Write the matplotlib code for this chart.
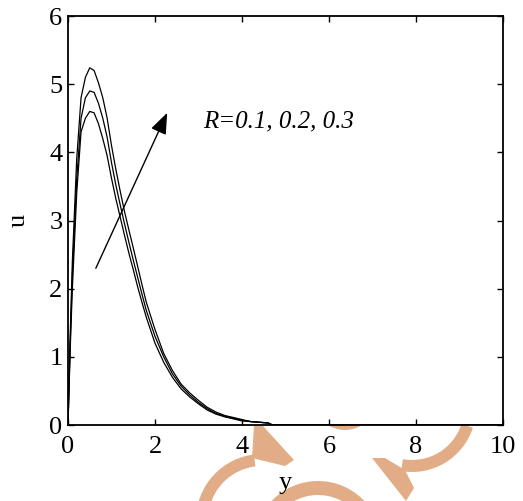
import matplotlib
matplotlib.use("Agg")
import matplotlib.pyplot as plt
from matplotlib.patches import Wedge, Polygon

plt.rcParams['font.family'] = ['Liberation Serif', 'DejaVu Serif']

# distance from the plate
y = [0, 0.05, 0.1, 0.2, 0.3, 0.4, 0.5, 0.6, 0.7, 0.8, 0.9, 1.0, 1.1, 1.2, 1.3,
     1.4, 1.5, 1.6, 1.7, 1.8, 2.0, 2.2, 2.4, 2.6, 2.8, 3.0, 3.2, 3.4, 3.6, 3.8,
     4.0, 4.2, 4.4, 4.6, 4.7, 5.0, 6.0, 7.0, 8.0, 9.0, 10.0]

# velocity profiles for R = 0.1, 0.2, 0.3
u_r01 = [0, 1.1, 2.0, 3.4, 4.3, 4.5, 4.6, 4.58, 4.42, 4.2, 3.95, 3.62, 3.32, 3.05,
         2.78, 2.52, 2.28, 2.03, 1.8, 1.58, 1.2, 0.92, 0.7, 0.53, 0.41, 0.31, 0.22,
         0.16, 0.12, 0.09, 0.06, 0.05, 0.04, 0.03, 0, 0, 0, 0, 0, 0, 0]
u_r02 = [0, 1.2, 2.2, 3.6, 4.5, 4.8, 4.9, 4.88, 4.72, 4.5, 4.22, 3.85, 3.52, 3.23,
         2.95, 2.68, 2.42, 2.17, 1.92, 1.68, 1.3, 1.0, 0.75, 0.57, 0.44, 0.33, 0.24,
         0.17, 0.13, 0.1, 0.07, 0.05, 0.04, 0.03, 0, 0, 0, 0, 0, 0, 0]
u_r03 = [0, 1.3, 2.4, 3.9, 4.8, 5.1, 5.24, 5.2, 5.02, 4.8, 4.5, 4.1, 3.75, 3.43,
         3.13, 2.86, 2.6, 2.33, 2.06, 1.8, 1.4, 1.05, 0.8, 0.6, 0.47, 0.36, 0.26,
         0.19, 0.14, 0.11, 0.08, 0.05, 0.04, 0.03, 0, 0, 0, 0, 0, 0, 0]

xticks = [0, 2, 4, 6, 8, 10]
yticks = [0, 1, 2, 3, 4, 5, 6]

W, H = 523, 501
fig = plt.figure(figsize=(W / 100, H / 100), dpi=100)

# watermark layer (pixel coords, y up)
bg = fig.add_axes([0, 0, 1, 1], zorder=0)
bg.set_xlim(0, W)
bg.set_ylim(0, H)
bg.axis('off')
wm = '#e2ad86'


def py(v):
    return H - v


bg.add_patch(Wedge((262, py(520)), 66, 97, 168, width=12, color=wm, lw=0))
bg.add_patch(Polygon([(254, py(426)), (263, py(426)), (294, py(460)),
                      (285, py(466)), (252, py(458))], color=wm, lw=0))
bg.add_patch(Wedge((412, py(408)), 64, -100, -18, width=12, color=wm, lw=0))
bg.add_patch(Polygon([(372, py(458)), (406, py(501)), (414, py(488)),
                      (405, py(470)), (385, py(458))], color=wm, lw=0))
bg.add_patch(Wedge((318, py(545)), 64, 38, 148, width=14, color=wm, lw=0))
bg.add_patch(Wedge((345, py(398)), 32, 238, 302, width=10, color=wm, lw=0))

ax = fig.add_axes([68 / W, 1 - 425 / H, 435 / W, 409 / H], zorder=1)
ax.set_facecolor('white')

for u in (u_r01, u_r02, u_r03):
    ax.plot(y, u, color='black', lw=0.9)

ax.annotate('', xy=(2.28, 4.58), xytext=(0.64, 2.3),
            arrowprops=dict(arrowstyle='-|>,head_length=1.3,head_width=0.5',
                            color='black', lw=1.0, shrinkA=0, shrinkB=0))
ax.text(3.1, 4.45, 'R=0.1, 0.2, 0.3', fontsize=18, style='italic',
        va='center', ha='left')

ax.set_xlim(0, 10)
ax.set_ylim(0, 6)
ax.set_xticks(xticks)
ax.set_yticks(yticks)
ax.tick_params(direction='in', length=4, width=1, top=True, right=True,
               labelsize=19)
ax.tick_params(axis='x', pad=8)
ax.tick_params(axis='y', pad=4)
for s in ax.spines.values():
    s.set_linewidth(1.3)
ax.set_xlabel('y', fontsize=19, labelpad=10)
ax.set_ylabel('u', fontsize=19, labelpad=14)

fig.savefig('out.png', dpi=100)
